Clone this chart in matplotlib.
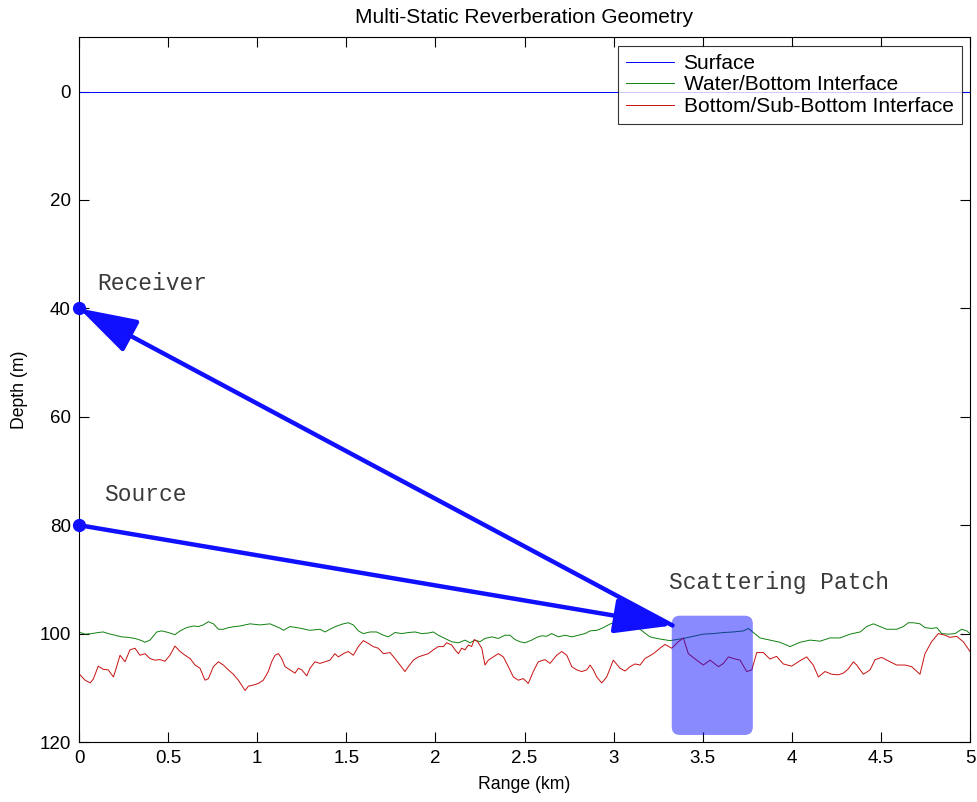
import matplotlib
matplotlib.use("Agg")
import matplotlib.pyplot as plt
from matplotlib.patches import FancyBboxPatch

# Interface profiles: range (km) and depth (m)
water_bottom_range = [
    0.006, 0.034, 0.071, 0.108, 0.136, 0.164, 0.202, 0.239, 0.277, 0.314,
    0.352, 0.370, 0.398, 0.436, 0.464, 0.501, 0.538, 0.567, 0.604, 0.641,
    0.670, 0.697, 0.726, 0.754, 0.782, 0.810, 0.838, 0.875, 0.903, 0.960,
    1.016, 1.072, 1.128, 1.147, 1.184, 1.240, 1.296, 1.352, 1.380, 1.408,
    1.446, 1.483, 1.511, 1.539, 1.567, 1.595, 1.633, 1.670, 1.708, 1.736,
    1.773, 1.811, 1.848, 1.886, 1.923, 1.960, 1.988, 2.016, 2.054, 2.091,
    2.129, 2.166, 2.194, 2.222, 2.250, 2.278, 2.316, 2.353, 2.390, 2.418,
    2.446, 2.474, 2.502, 2.540, 2.568, 2.596, 2.624, 2.652, 2.690, 2.727,
    2.765, 2.802, 2.839, 2.868, 2.905, 2.942, 2.970, 2.989, 3.017, 3.055,
    3.092, 3.129, 3.167, 3.204, 3.242, 3.279, 3.316, 3.335, 3.391, 3.447,
    3.503, 3.560, 3.616, 3.672, 3.728, 3.756, 3.784, 3.821, 3.877, 3.933,
    3.990, 4.046, 4.102, 4.158, 4.214, 4.270, 4.327, 4.383, 4.420, 4.458,
    4.495, 4.532, 4.588, 4.626, 4.654, 4.682, 4.719, 4.747, 4.785, 4.813,
    4.841, 4.878, 4.916, 4.953, 4.981, 5.000,
]
water_bottom_depth = [
    99.8, 100.1, 100.0, 99.8, 99.7, 100.0, 100.3, 100.6, 100.7, 100.9,
    101.3, 101.6, 101.2, 99.7, 99.5, 99.8, 100.2, 99.5, 98.9, 98.6,
    98.7, 98.4, 97.8, 98.2, 99.2, 99.2, 98.9, 98.7, 98.6, 98.2,
    98.4, 98.2, 99.0, 99.4, 98.7, 99.0, 99.4, 99.2, 99.7, 99.2,
    98.6, 98.2, 98.0, 98.4, 99.5, 100.0, 99.7, 99.7, 100.3, 100.6,
    99.8, 100.0, 99.8, 99.7, 100.0, 99.9, 99.7, 100.3, 100.9, 101.5,
    101.7, 101.2, 101.7, 101.2, 101.5, 100.9, 100.6, 100.9, 100.3, 100.3,
    101.1, 101.5, 101.7, 101.2, 100.7, 100.4, 100.5, 100.0, 100.6, 100.3,
    100.6, 100.3, 100.0, 99.5, 99.4, 98.9, 98.4, 98.1, 98.7, 98.7,
    98.6, 98.7, 99.7, 100.6, 100.9, 101.1, 101.3, 101.2, 100.9, 100.5,
    100.1, 100.0, 99.8, 99.7, 99.5, 99.05, 99.8, 100.8, 101.2, 101.6,
    102.4, 101.6, 101.2, 101.4, 100.8, 100.8, 100.1, 99.7, 98.7, 98.2,
    98.7, 99.2, 99.2, 98.7, 98.0, 98.0, 98.2, 98.9, 99.05, 98.9,
    100.0, 100.1, 100.0, 99.2, 99.5, 100.0,
]

sub_bottom_range = [
    0.006, 0.034, 0.062, 0.080, 0.108, 0.136, 0.164, 0.193, 0.211, 0.230,
    0.258, 0.286, 0.314, 0.342, 0.370, 0.398, 0.426, 0.454, 0.482, 0.510,
    0.538, 0.567, 0.595, 0.623, 0.651, 0.679, 0.707, 0.726, 0.754, 0.782,
    0.810, 0.838, 0.866, 0.894, 0.932, 0.950, 0.978, 1.006, 1.034, 1.062,
    1.081, 1.100, 1.119, 1.137, 1.156, 1.184, 1.212, 1.231, 1.250, 1.278,
    1.296, 1.324, 1.352, 1.380, 1.408, 1.436, 1.455, 1.483, 1.511, 1.539,
    1.567, 1.595, 1.623, 1.651, 1.679, 1.708, 1.745, 1.773, 1.801, 1.829,
    1.848, 1.876, 1.904, 1.932, 1.960, 1.988, 2.016, 2.044, 2.063, 2.091,
    2.110, 2.129, 2.147, 2.166, 2.185, 2.203, 2.218, 2.237, 2.260, 2.278,
    2.297, 2.325, 2.353, 2.381, 2.409, 2.437, 2.465, 2.493, 2.521, 2.549,
    2.577, 2.615, 2.643, 2.680, 2.709, 2.737, 2.765, 2.793, 2.821, 2.849,
    2.868, 2.886, 2.905, 2.933, 2.961, 2.998, 3.036, 3.064, 3.092, 3.120,
    3.148, 3.176, 3.223, 3.260, 3.288, 3.326, 3.363, 3.391, 3.419, 3.466,
    3.503, 3.541, 3.588, 3.616, 3.644, 3.672, 3.709, 3.747, 3.775, 3.803,
    3.840, 3.877, 3.914, 3.952, 3.999, 4.046, 4.083, 4.120, 4.149, 4.186,
    4.224, 4.261, 4.289, 4.317, 4.345, 4.364, 4.401, 4.439, 4.467, 4.504,
    4.551, 4.588, 4.635, 4.672, 4.719, 4.747, 4.784, 4.822, 4.859, 4.887,
    4.925, 4.962, 5.000,
]
sub_bottom_depth = [
    107.6, 108.6, 109.1, 108.4, 106.0, 106.6, 106.7, 108.0, 106.1, 104.0,
    105.2, 103.0, 102.7, 104.0, 103.7, 104.6, 104.9, 104.8, 105.1, 104.0,
    102.3, 103.3, 104.0, 104.6, 105.8, 106.4, 108.6, 108.3, 106.1, 105.2,
    105.8, 106.7, 107.5, 108.6, 110.5, 109.7, 109.5, 109.2, 108.6, 107.0,
    105.2, 104.0, 103.7, 104.6, 106.1, 106.7, 107.3, 106.4, 106.7, 107.8,
    106.4, 105.2, 105.5, 105.2, 104.9, 103.7, 104.3, 103.7, 103.3, 104.0,
    102.4, 101.3, 101.8, 102.4, 102.7, 103.7, 103.5, 104.6, 105.8, 107.0,
    106.1, 104.9, 104.3, 104.0, 103.7, 103.0, 102.4, 102.4, 101.7, 102.1,
    103.0, 103.7, 102.7, 103.0, 102.1, 102.4, 101.1, 101.5, 102.7, 105.8,
    104.9, 104.3, 103.7, 104.3, 106.1, 108.0, 108.6, 108.3, 109.2, 107.0,
    105.2, 104.8, 105.5, 104.0, 103.3, 104.0, 106.1, 106.7, 107.0, 106.7,
    105.8, 106.7, 108.0, 109.1, 108.0, 104.9, 106.4, 106.9, 106.1, 105.6,
    105.8, 104.6, 103.7, 102.7, 102.0, 102.7, 101.5, 100.8, 103.7, 104.9,
    105.8, 104.9, 106.1, 105.5, 104.3, 104.6, 104.9, 107.0, 106.7, 103.5,
    103.5, 104.7, 104.2, 105.6, 106.0, 105.0, 104.3, 105.8, 108.0, 107.0,
    107.5, 107.6, 107.3, 106.5, 105.2, 105.8, 107.5, 106.7, 104.8, 104.4,
    105.2, 105.8, 105.8, 106.1, 107.5, 103.7, 101.5, 100.0, 100.3, 100.7,
    100.5, 101.5, 103.3,
]

surface_range = [0.0, 5.0]
surface_depth = [0.0, 0.0]

# Geometry: source, receiver and scattering patch
source = (0.0, 80.0)
receiver = (0.0, 40.0)
patch_point = (3.33, 98.5)
patch_x = (3.326, 3.781)
patch_depth = (96.7, 118.7)

x_ticks = [0, 0.5, 1, 1.5, 2, 2.5, 3, 3.5, 4, 4.5, 5]
x_tick_labels = ["0", "0.5", "1", "1.5", "2", "2.5", "3", "3.5", "4", "4.5", "5"]
y_ticks = [0, 20, 40, 60, 80, 100, 120]

x_lim = (0, 5)
y_lim = (120, -10)

plt.rcParams["font.family"] = ["Liberation Sans", "DejaVu Sans"]

W, H = 9.77, 8.02
fig = plt.figure(figsize=(W, H), dpi=100)
ax_rect = [0.0809, 0.0748, 0.9120, 0.8787]
ax = fig.add_axes(ax_rect)

ax.plot(surface_range, surface_depth, color="#0000ff", lw=0.7, label="Surface")
ax.plot(water_bottom_range, water_bottom_depth, color="#108010", lw=0.7,
        label="Water/Bottom Interface")
ax.plot(sub_bottom_range, sub_bottom_depth, color="#c81010", lw=0.7,
        label="Bottom/Sub-Bottom Interface")

ax.set_xlim(*x_lim)
ax.set_ylim(*y_lim)
ax.set_xticks(x_ticks)
ax.set_xticklabels(x_tick_labels)
ax.set_yticks(y_ticks)
ax.tick_params(direction="in", length=7, width=0.8, top=True, right=True,
               labelsize=13.5, pad=6)
for s in ax.spines.values():
    s.set_linewidth(0.8)

ax.set_xlabel("Range (km)", fontsize=12.7, labelpad=6)
ax.set_ylabel("Depth (m)", fontsize=12.7, labelpad=8)
ax.set_title("Multi-Static Reverberation Geometry", fontsize=15, pad=10)

arrow_color = "#1010ff"
arrow_kw = dict(arrowstyle="-|>,head_length=1.8,head_width=0.55",
                color=arrow_color, lw=3.2, shrinkA=0, shrinkB=0,
                mutation_scale=20)
ax.annotate("", xy=patch_point, xytext=source, arrowprops=arrow_kw, zorder=4)
ax.annotate("", xy=receiver, xytext=patch_point, arrowprops=arrow_kw, zorder=4)

ax.plot([source[0], receiver[0]], [source[1], receiver[1]], "o",
        color=arrow_color, markersize=8.5, clip_on=False, zorder=5)

# Rounded patch; mutation_aspect keeps the corners circular on screen
ax_w_in = ax_rect[2] * W
ax_h_in = ax_rect[3] * H
km_per_in = (x_lim[1] - x_lim[0]) / ax_w_in
m_per_in = abs(y_lim[0] - y_lim[1]) / ax_h_in
aspect = m_per_in / km_per_in
patch = FancyBboxPatch((patch_x[0], patch_depth[0]),
                       patch_x[1] - patch_x[0], patch_depth[1] - patch_depth[0],
                       boxstyle="round,pad=0,rounding_size=0.045",
                       mutation_aspect=aspect,
                       facecolor="#0000ff", alpha=0.46, edgecolor="none",
                       zorder=6)
ax.add_patch(patch)

label_kw = dict(family=["Liberation Mono", "DejaVu Sans Mono"], fontsize=16.5,
                color="#3a3a3a", va="center", ha="left")
ax.text(0.10, 35.4, "Receiver", **label_kw)
ax.text(0.14, 74.4, "Source", **label_kw)
ax.text(3.31, 90.5, "Scattering Patch", **label_kw)

leg = ax.legend(loc="upper right", fontsize=15, frameon=True, fancybox=False,
                edgecolor="black", borderaxespad=0.4, handlelength=2.3,
                labelspacing=0.12, borderpad=0.4, handletextpad=0.45)
leg.get_frame().set_linewidth(0.8)

fig.savefig("out.png", dpi=100)
